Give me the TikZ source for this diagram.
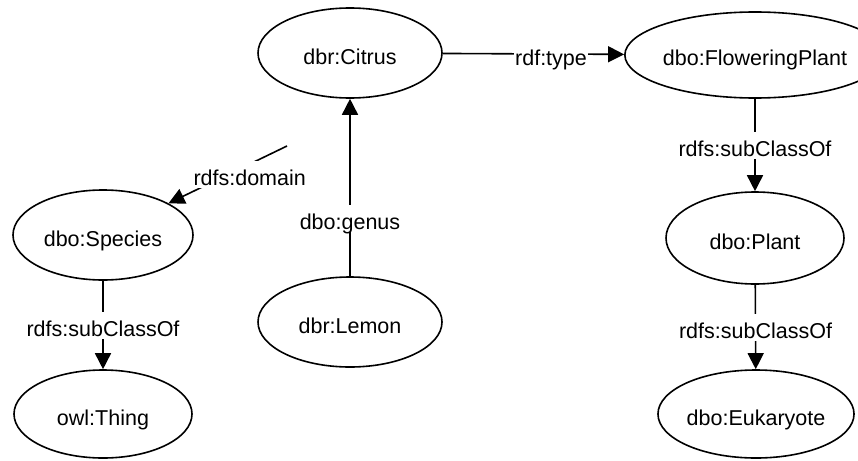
\documentclass[tikz,border=0pt]{standalone}
\usepackage{fontspec}
\setmainfont{Liberation Sans}
\usetikzlibrary{shapes.geometric,arrows.meta}

\tikzset{
  concept/.style={draw=black, line width=1.6pt, ellipse, fill=white,
    inner sep=0pt, text height=22pt, text depth=0pt,
    font=\fontsize{21.5}{26}\selectfont},
  rel/.style={draw=black, line width=1.6pt,
    -{Triangle[length=16pt,width=16pt]}},
  lbl/.style={fill=white, inner xsep=1pt, inner ysep=0pt,
    text height=25pt, text depth=2pt, font=\fontsize{21.5}{26}\selectfont}
}

\begin{document}
\begin{tikzpicture}[x=1pt, y=-1pt]
  \useasboundingbox (0,0) rectangle (858,460);

  % resources and classes
  \node[concept, minimum width=184pt, minimum height=90pt] (ci) at (350,53) {dbr:Citrus};
  \node[concept, minimum width=224pt, minimum height=86pt] (fp) at (755,55) {dbo:FloweringPlant};
  \node[concept, minimum width=178pt, minimum height=92pt] (pl) at (755,238) {dbo:Plant};
  \node[concept, minimum width=182pt, minimum height=88pt] (eu) at (756,414) {dbo:Eukaryote};
  \node[concept, minimum width=184pt, minimum height=90pt] (le) at (350,322) {dbr:Lemon};
  \node[concept, minimum width=180pt, minimum height=90pt] (sp) at (103,235) {dbo:Species};
  \node[concept, minimum width=178pt, minimum height=88pt] (th) at (103,414) {owl:Thing};

  % loose end of the domain property
  \coordinate (dfree) at (287,146);

  % properties
  \draw[rel] (ci) -- node[lbl, pos=0.597] {rdf:type} (fp);
  \draw[rel] (fp) -- node[lbl, pos=0.5] {rdfs:subClassOf} (pl);
  \draw[rel] (pl) -- node[lbl, pos=0.5] {rdfs:subClassOf} (eu);
  \draw[rel] (le) -- node[lbl, pos=0.327] {dbo:genus} (ci);
  \draw[rel] (sp) -- node[lbl, pos=0.5] {rdfs:subClassOf} (th);
  \draw[rel] (dfree) -- node[lbl, pos=0.315, yshift=-10pt] {rdfs:domain} (sp);
\end{tikzpicture}
\end{document}
